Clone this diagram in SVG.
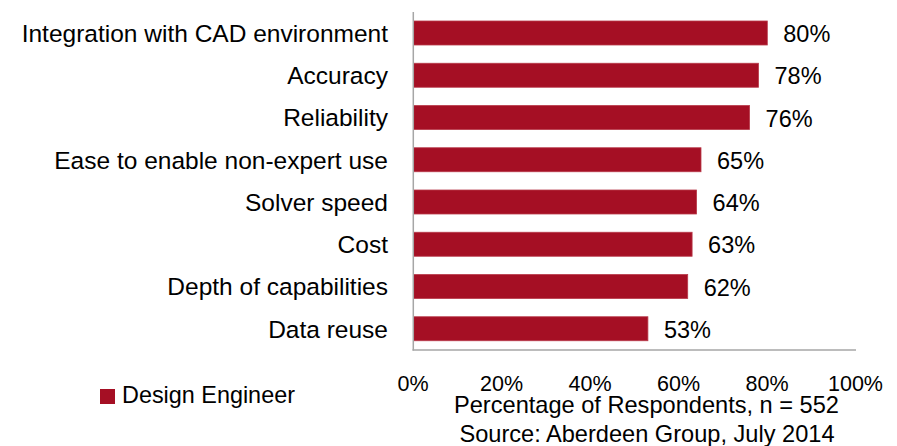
<svg xmlns="http://www.w3.org/2000/svg" width="897" height="446" viewBox="0 0 897 446">
<style>
.bar{fill:#A50F24;stroke:#B83A4A;stroke-width:0.8}
.cat{font-family:"Liberation Sans",Arial,sans-serif;font-size:24.5px;fill:#000;text-anchor:end}
.val{font-family:"Liberation Sans",Arial,sans-serif;font-size:23.5px;fill:#000}
.tick{font-family:"Liberation Sans",Arial,sans-serif;font-size:21.5px;fill:#000;text-anchor:middle}
.title{font-family:"Liberation Sans",Arial,sans-serif;font-size:23.6px;fill:#000;text-anchor:middle}
.axis{stroke:#A6A6A6;stroke-width:1.5;fill:none}
</style>
<rect width="897" height="446" fill="#fff"/>
<g id="bars">
<g id="bar-cad"><rect class="bar" x="413.5" y="21" width="353.8" height="24"/><text class="cat" x="388" y="41.7">Integration with CAD environment</text><text class="val" x="783.3" y="42">80%</text></g>
<g id="bar-accuracy"><rect class="bar" x="413.5" y="63.25" width="345" height="24"/><text class="cat" x="388" y="84">Accuracy</text><text class="val" x="774.5" y="84.3">78%</text></g>
<g id="bar-reliability"><rect class="bar" x="413.5" y="105.5" width="336.1" height="24"/><text class="cat" x="388" y="126.2">Reliability</text><text class="val" x="765.6" y="126.5">76%</text></g>
<g id="bar-ease"><rect class="bar" x="413.5" y="147.75" width="287.5" height="24"/><text class="cat" x="388" y="168.5">Ease to enable non-expert use</text><text class="val" x="717" y="168.8">65%</text></g>
<g id="bar-speed"><rect class="bar" x="413.5" y="190" width="283.1" height="24"/><text class="cat" x="388" y="210.7">Solver speed</text><text class="val" x="712.6" y="211">64%</text></g>
<g id="bar-cost"><rect class="bar" x="413.5" y="232.25" width="278.6" height="24"/><text class="cat" x="388" y="253">Cost</text><text class="val" x="708.1" y="253.3">63%</text></g>
<g id="bar-depth"><rect class="bar" x="413.5" y="274.5" width="274.2" height="24"/><text class="cat" x="388" y="295.2">Depth of capabilities</text><text class="val" x="703.7" y="295.5">62%</text></g>
<g id="bar-reuse"><rect class="bar" x="413.5" y="316.75" width="234.4" height="24"/><text class="cat" x="388" y="337.5">Data reuse</text><text class="val" x="663.9" y="337.8">53%</text></g>
</g>
<g id="axes">
<line class="axis" x1="413.3" y1="12" x2="413.3" y2="350.5"/>
<line class="axis" x1="412.5" y1="350" x2="856" y2="350"/>
<text class="tick" x="413" y="390.5">0%</text>
<text class="tick" x="501.5" y="390.5">20%</text>
<text class="tick" x="590" y="390.5">40%</text>
<text class="tick" x="678.5" y="390.5">60%</text>
<text class="tick" x="767" y="390.5">80%</text>
<text class="tick" x="855.5" y="390.5">100%</text>
<text class="title" x="646.5" y="412.7">Percentage of Respondents, n = 552</text>
<text class="title" x="647" y="441.5">Source: Aberdeen Group, July 2014</text>
</g>
<g id="legend">
<rect x="100" y="389" width="15" height="15" fill="#A50F24"/>
<text class="val" x="122" y="403" style="font-size:23.4px">Design Engineer</text>
</g>
</svg>
